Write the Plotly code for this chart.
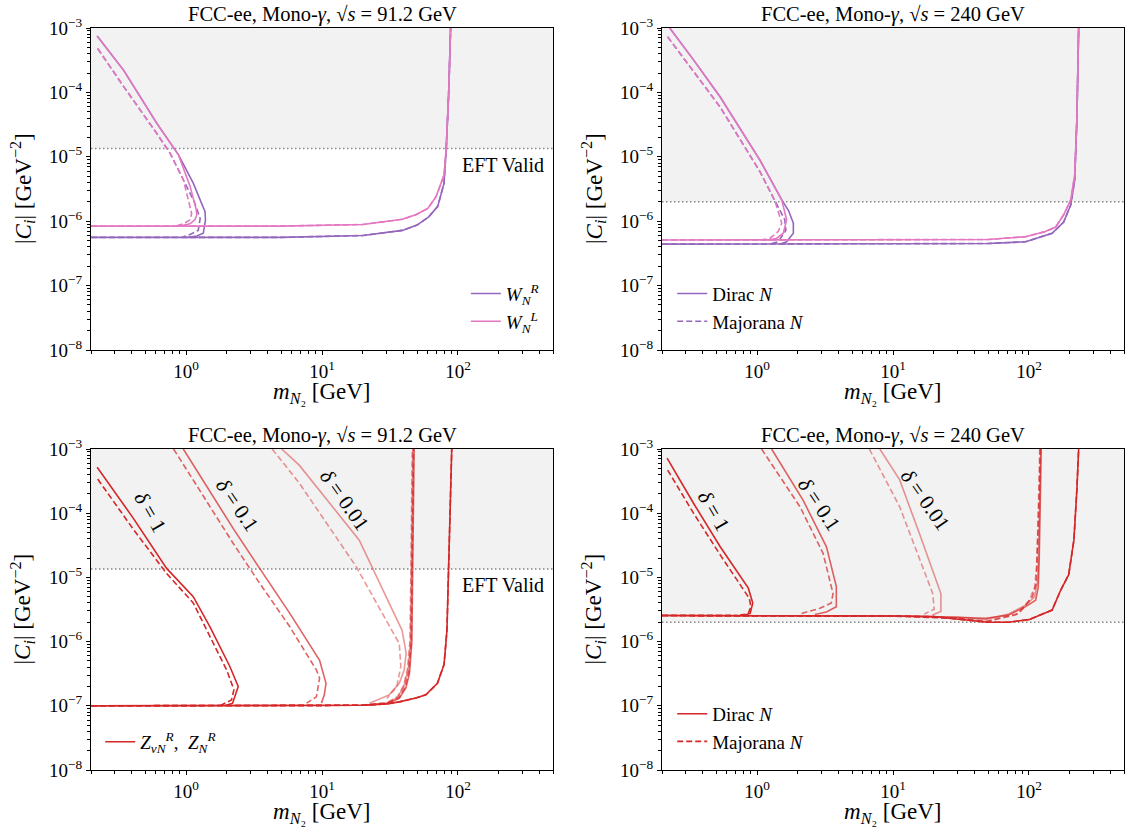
import numpy as np
import plotly.graph_objects as go
from plotly.subplots import make_subplots

# ---------------- axis limits / EFT lines ----------------
m_lim = [0.2, 500]
C_lim = [1e-8, 1e-3]
eft_91 = 1.35e-5
eft_240 = 2.0e-6

# tick labels
x_tick_vals = [1, 10, 100]
x_tick_text = ["10<sup>0</sup>", "10<sup>1</sup>", "10<sup>2</sup>"]
y_tick_vals = [1e-8, 1e-7, 1e-6, 1e-5, 1e-4, 1e-3]
y_tick_text = ["10<sup>−8</sup>", "10<sup>−7</sup>", "10<sup>−6</sup>", "10<sup>−5</sup>",
               "10<sup>−4</sup>", "10<sup>−3</sup>"]

# ---------------- Top-left: W operators, sqrt(s)=91.2 ----------------
tl_WR_dir_diag_m = [0.222, 0.348, 0.61, 0.88, 1.13, 1.38, 1.39, 1.34, 1.20, 1.01]
tl_WR_dir_diag_C = [7.5e-4, 2.2e-4, 3.3e-5, 1.07e-5, 3.9e-6, 1.41e-6, 1.05e-6, 6.5e-7, 5.9e-7, 5.6e-7]
tl_WR_maj_diag_m = [0.224, 0.348, 0.61, 0.764, 0.955, 1.15, 1.27, 1.23, 1.07, 0.955]
tl_WR_maj_diag_C = [4.8e-4, 1.23e-4, 2.3e-5, 1.13e-5, 4.4e-6, 2.0e-6, 1.1e-6, 7.2e-7, 6.2e-7, 5.75e-7]
tl_WR_flat_m = [0.2, 5, 20, 39, 50, 61, 71, 79, 82, 85.5, 88.3]
tl_WR_flat_C = [5.6e-7, 5.6e-7, 6.0e-7, 7.2e-7, 8.7e-7, 1.17e-6, 1.7e-6, 3.9e-6, 1.35e-5, 1e-4, 1e-3]

tl_WL_dir_diag_m = [0.222, 0.348, 0.61, 0.88, 1.07, 1.19, 1.20, 1.16, 1.07, 0.90]
tl_WL_dir_diag_C = [7.5e-4, 2.2e-4, 3.3e-5, 1.07e-5, 3.5e-6, 1.5e-6, 1.25e-6, 1.05e-6, 9.1e-7, 8.4e-7]
tl_WL_maj_diag_m = [0.224, 0.348, 0.61, 0.764, 0.955, 1.10, 1.07, 0.955, 0.855]
tl_WL_maj_diag_C = [4.8e-4, 1.23e-4, 2.3e-5, 1.13e-5, 4.4e-6, 1.32e-6, 1.05e-6, 9.1e-7, 8.5e-7]
tl_WL_flat_m = [0.2, 5, 20, 39, 49, 60, 69, 79, 82, 85.5, 88.3]
tl_WL_flat_C = [8.4e-7, 8.4e-7, 8.9e-7, 1.07e-6, 1.26e-6, 1.58e-6, 2.4e-6, 5.2e-6, 1.35e-5, 1e-4, 1e-3]

# ---------------- Top-right: W operators, sqrt(s)=240 ----------------
tr_WR_dir_diag_m = [0.228, 0.341, 0.536, 1.05, 1.52, 1.70, 1.85, 1.85, 1.65, 1.47]
tr_WR_dir_diag_C = [1e-3, 3.2e-4, 8.5e-5, 8.9e-6, 2.14e-6, 1.48e-6, 9.3e-7, 6.5e-7, 4.8e-7, 4.4e-7]
tr_WR_maj_diag_m = [0.22, 0.536, 1.05, 1.36, 1.52, 1.60, 1.63, 1.43, 1.24]
tr_WR_maj_diag_C = [7.3e-4, 5.9e-5, 5.9e-6, 2.0e-6, 1.3e-6, 1.05e-6, 7.2e-7, 4.8e-7, 4.4e-7]
tr_WR_flat_m = [0.2, 20, 50, 94.6, 148, 180, 203, 217, 225, 232]
tr_WR_flat_C = [4.4e-7, 4.4e-7, 4.5e-7, 4.8e-7, 6.5e-7, 9.7e-7, 1.8e-6, 4.4e-6, 3.7e-5, 1e-3]

tr_WL_dir_diag_m = [0.228, 0.341, 0.536, 1.05, 1.52, 1.65, 1.56, 1.39, 1.2]
tr_WL_dir_diag_C = [1e-3, 3.2e-4, 8.5e-5, 8.9e-6, 2.14e-6, 1.05e-6, 6.5e-7, 5.4e-7, 5.1e-7]
tr_WL_maj_diag_m = [0.22, 0.536, 1.05, 1.36, 1.52, 1.43, 1.24, 1.06]
tr_WL_maj_diag_C = [7.3e-4, 5.9e-5, 5.9e-6, 2.0e-6, 9.3e-7, 6.9e-7, 5.4e-7, 5.1e-7]
tr_WL_flat_m = [0.2, 20, 50, 94.6, 132, 157, 180, 203, 217, 225, 232]
tr_WL_flat_C = [5.1e-7, 5.1e-7, 5.2e-7, 5.75e-7, 6.9e-7, 8.1e-7, 1.26e-6, 2.14e-6, 5.2e-6, 3.7e-5, 1e-3]

# ---------------- Bottom-left: Z operators, sqrt(s)=91.2 ----------------
bl_d1_dir_diag_m = [0.222, 0.41, 0.72, 1.13, 1.5, 2.1, 2.42, 2.27, 2.2, 1.93]
bl_d1_dir_diag_C = [5.2e-4, 8.3e-5, 1.38e-5, 5.0e-6, 1.7e-6, 4.1e-7, 2.0e-7, 1.38e-7, 1.1e-7, 1.0e-7]
bl_d1_maj_diag_m = [0.224, 0.41, 0.72, 1.13, 1.99, 2.25, 2.16, 1.77]
bl_d1_maj_diag_C = [3.4e-4, 5.6e-5, 1.15e-5, 4.0e-6, 3.6e-7, 1.78e-7, 1.23e-7, 1.0e-7]
bl_d1_flat_m = [0.2, 10, 20, 30, 37, 49, 58, 70.6, 79, 83, 85, 87.5, 90]
bl_d1_flat_C = [1e-7, 1e-7, 1.02e-7, 1.07e-7, 1.15e-7, 1.32e-7, 1.48e-7, 2.24e-7, 4.4e-7, 1.5e-6, 1.38e-5, 1e-4, 1e-3]

bl_d01_dir_diag_m = [0.955, 2.22, 3.48, 5.8, 9.6, 10.7, 10.4, 9.9]
bl_d01_dir_diag_C = [1e-3, 5.8e-5, 1.38e-5, 2.75e-6, 5.1e-7, 2.24e-7, 1.48e-7, 1.1e-7]
bl_d01_maj_diag_m = [0.81, 2.22, 3.48, 5.8, 9.1, 9.6, 9.1, 7.7]
bl_d01_maj_diag_C = [1e-3, 3.4e-5, 8.1e-6, 1.7e-6, 3.6e-7, 2.7e-7, 1.38e-7, 1.1e-7]
bl_d01_dir_flat_m = [0.2, 10, 20, 30, 37, 41.4, 44, 45.8, 46.6, 47.1, 47.6]
bl_d01_dir_flat_C = [1e-7, 1e-7, 1.02e-7, 1.08e-7, 1.3e-7, 1.9e-7, 3.2e-7, 1e-6, 1.35e-5, 1e-4, 1e-3]
bl_d01_maj_flat_m = [0.2, 10, 20, 30, 37, 41, 43.5, 45.3, 46.1, 46.6, 47.1]
bl_d01_maj_flat_C = [1e-7, 1e-7, 1.02e-7, 1.08e-7, 1.35e-7, 2.0e-7, 3.4e-7, 1e-6, 1.35e-5, 1e-4, 1e-3]

bl_d001_dir_diag_m = [5.05, 6.8, 18.8, 27.9, 38.8, 41.6, 40.2, 37, 31.2, 22.3]
bl_d001_dir_diag_C = [1e-3, 5.6e-4, 3.8e-5, 6.4e-6, 1.5e-6, 6.6e-7, 3.6e-7, 2.24e-7, 1.48e-7, 1.1e-7]
bl_d001_maj_diag_m = [4.3, 6.8, 17.8, 37, 38, 35.5, 30]
bl_d001_maj_diag_C = [1e-3, 2.95e-4, 1.48e-5, 9.3e-7, 4.1e-7, 2.0e-7, 1.3e-7]
bl_d001_dir_flat_m = [0.2, 10, 20, 30, 36, 40, 43, 44.8, 45.6, 46.1, 46.6]
bl_d001_dir_flat_C = [1e-7, 1e-7, 1.02e-7, 1.1e-7, 1.35e-7, 2.0e-7, 3.6e-7, 1e-6, 1.35e-5, 1e-4, 1e-3]
bl_d001_maj_flat_m = [0.2, 10, 20, 30, 36, 40, 42.5, 44.3, 45.1, 45.6, 46.1]
bl_d001_maj_flat_C = [1e-7, 1e-7, 1.03e-7, 1.12e-7, 1.4e-7, 2.1e-7, 3.8e-7, 1e-6, 1.35e-5, 1e-4, 1e-3]

# ---------------- Bottom-right: Z operators, sqrt(s)=240 ----------------
br_d1_dir_diag_m = [0.218, 0.341, 0.536, 0.863, 0.93, 0.89, 0.817]
br_d1_dir_diag_C = [7.2e-4, 1.43e-4, 3.0e-5, 6.8e-6, 4.0e-6, 2.75e-6, 2.6e-6]
br_d1_maj_diag_m = [0.22, 0.341, 0.536, 0.878, 0.90, 0.86, 0.75]
br_d1_maj_diag_C = [4.7e-4, 1.0e-4, 2.24e-5, 4.7e-6, 3.5e-6, 2.7e-6, 2.6e-6]
br_d1_flat_m = [0.2, 1, 10, 20, 35, 50, 70, 100, 148, 171, 196, 214, 225, 232]
br_d1_flat_C = [2.55e-6, 2.55e-6, 2.5e-6, 2.45e-6, 2.2e-6, 2.0e-6, 2.0e-6, 2.2e-6, 3.1e-6, 6.3e-6, 1.1e-5, 3.8e-5, 2.3e-4, 1e-3]

br_d01_dir_diag_m = [1.28, 2.18, 3.24, 3.83, 3.83, 3.24, 2.66]
br_d01_dir_diag_C = [1e-3, 1.6e-4, 3.0e-5, 7.2e-6, 3.5e-6, 2.9e-6, 2.65e-6]
br_d01_maj_diag_m = [1.08, 2.07, 3.06, 3.62, 3.52, 2.9, 2.07]
br_d01_maj_diag_C = [1e-3, 1.26e-4, 2.37e-5, 5.6e-6, 4.0e-6, 3.3e-6, 2.7e-6]
br_d01_dir_flat_m = [0.2, 10, 30, 48, 71, 94.6, 112, 117, 119, 121, 123]
br_d01_dir_flat_C = [2.55e-6, 2.5e-6, 2.4e-6, 2.3e-6, 2.6e-6, 3.5e-6, 4.4e-6, 7e-6, 2e-5, 1.5e-4, 1e-3]
br_d01_maj_flat_m = [0.2, 10, 30, 48, 84.5, 106, 113, 115, 117, 119, 121]
br_d01_maj_flat_C = [2.55e-6, 2.5e-6, 2.3e-6, 2.04e-6, 2.75e-6, 5e-6, 8e-6, 2e-5, 5e-5, 2e-4, 1e-3]

br_d001_dir_diag_m = [8.0, 11.2, 15.6, 22.5, 22.5, 19.5]
br_d001_dir_diag_C = [1e-3, 3.3e-4, 4.9e-5, 5.6e-6, 2.95e-6, 2.6e-6]
br_d001_maj_diag_m = [6.7, 11.2, 19.6, 20.1, 17.0]
br_d001_maj_diag_C = [1e-3, 1.26e-4, 5.6e-6, 3.2e-6, 2.7e-6]
br_d001_dir_flat_m = [0.2, 10, 30, 48, 71, 94.6, 110, 116, 118, 120, 122]
br_d001_dir_flat_C = [2.55e-6, 2.5e-6, 2.4e-6, 2.2e-6, 2.7e-6, 3.7e-6, 5e-6, 9e-6, 3e-5, 2e-4, 1e-3]
br_d001_maj_flat_m = [0.2, 10, 30, 48, 80, 100, 110, 114, 116, 118, 120]
br_d001_maj_flat_C = [2.55e-6, 2.5e-6, 2.3e-6, 2.05e-6, 2.6e-6, 4.3e-6, 7e-6, 1.5e-5, 5e-5, 2.5e-4, 1e-3]

# text labels
titles = ["FCC-ee, Mono-<i>γ</i>, √<i>s</i> = 91.2 GeV", "FCC-ee, Mono-<i>γ</i>, √<i>s</i> = 240 GeV",
          "FCC-ee, Mono-<i>γ</i>, √<i>s</i> = 91.2 GeV", "FCC-ee, Mono-<i>γ</i>, √<i>s</i> = 240 GeV"]
x_label = "<i>m</i><sub><i>N</i>₂</sub> [GeV]"
y_label = "|<i>C<sub>i</sub></i>| [GeV<sup>−2</sup>]"
delta_labels = ["<i>δ</i> = 1", "<i>δ</i> = 0.1", "<i>δ</i> = 0.01"]
bl_delta_pos_m = [0.545, 2.38, 14.6]
bl_delta_pos_C = [1.05e-4, 1.34e-4, 1.6e-4]
br_delta_pos_m = [0.479, 2.85, 17.3]
br_delta_pos_C = [1.07e-4, 1.38e-4, 1.62e-4]
delta_angles = [60, 56, 55]
eft_label_m = 215
eft_label_C = [7.5e-6, 7.6e-6]

# ---------------- styling ----------------
PURPLE = "#9467bd"
PINK = "#e377c2"
RED = "#d62728"
RED2 = "rgba(214,39,40,0.72)"
RED3 = "rgba(214,39,40,0.48)"
FONT = "Liberation Serif"
LW = 1.6
DASH = "6px,3px"

fig = make_subplots(rows=2, cols=2)

xdom = [[91 / 1126, 553 / 1126], [662 / 1126, 1124 / 1126]]
ydom = [[(827 - 350) / 827, (827 - 28) / 827], [(827 - 770) / 827, (827 - 449) / 827]]


def join(m1, c1, m2, c2):
    return list(m1) + [None] + list(m2), list(c1) + [None] + list(c2)


def add_bg(row, col, eft):
    fig.add_trace(go.Scatter(x=[m_lim[0], m_lim[1], m_lim[1], m_lim[0], m_lim[0]],
                             y=[eft, eft, C_lim[1], C_lim[1], eft],
                             fill="toself", fillcolor="#f2f2f2", mode="lines",
                             line=dict(width=0), hoverinfo="skip", showlegend=False),
                  row=row, col=col)
    fig.add_trace(go.Scatter(x=m_lim, y=[eft, eft], mode="lines",
                             line=dict(color="#888888", width=1.5, dash="1.5px,2.5px"),
                             hoverinfo="skip", showlegend=False), row=row, col=col)


def add_line(row, col, m, c, color, dash=None, name=None, legend="legend", showlegend=False):
    fig.add_trace(go.Scatter(x=m, y=c, mode="lines", name=name,
                             line=dict(color=color, width=LW, dash=dash),
                             legend=legend, showlegend=showlegend, connectgaps=False),
                  row=row, col=col)


add_bg(1, 1, eft_91)
add_bg(1, 2, eft_240)
add_bg(2, 1, eft_91)
add_bg(2, 2, eft_240)

W_R = "<i>W</i><sub><i>N</i></sub><sup><i>R</i></sup>"
W_L = "<i>W</i><sub><i>N</i></sub><sup><i>L</i></sup>"
Z_lab = ("<i>Z</i><sub><i>νN</i></sub><sup><i>R</i></sup>,  "
         "<i>Z</i><sub><i>N</i></sub><sup><i>R</i></sup>")

# top-left
m, c = join(tl_WR_dir_diag_m, tl_WR_dir_diag_C, tl_WR_flat_m, tl_WR_flat_C)
add_line(1, 1, m, c, PURPLE, name=W_R, legend="legend", showlegend=True)
m, c = join(tl_WR_maj_diag_m, tl_WR_maj_diag_C, tl_WR_flat_m, tl_WR_flat_C)
add_line(1, 1, m, c, PURPLE, dash=DASH)
m, c = join(tl_WL_dir_diag_m, tl_WL_dir_diag_C, tl_WL_flat_m, tl_WL_flat_C)
add_line(1, 1, m, c, PINK, name=W_L, legend="legend", showlegend=True)
m, c = join(tl_WL_maj_diag_m, tl_WL_maj_diag_C, tl_WL_flat_m, tl_WL_flat_C)
add_line(1, 1, m, c, PINK, dash=DASH)

# top-right
m, c = join(tr_WR_dir_diag_m, tr_WR_dir_diag_C, tr_WR_flat_m, tr_WR_flat_C)
add_line(1, 2, m, c, PURPLE, name="Dirac <i>N</i>", legend="legend2", showlegend=True)
m, c = join(tr_WR_maj_diag_m, tr_WR_maj_diag_C, tr_WR_flat_m, tr_WR_flat_C)
add_line(1, 2, m, c, PURPLE, dash=DASH, name="Majorana <i>N</i>", legend="legend2", showlegend=True)
m, c = join(tr_WL_dir_diag_m, tr_WL_dir_diag_C, tr_WL_flat_m, tr_WL_flat_C)
add_line(1, 2, m, c, PINK)
m, c = join(tr_WL_maj_diag_m, tr_WL_maj_diag_C, tr_WL_flat_m, tr_WL_flat_C)
add_line(1, 2, m, c, PINK, dash=DASH)

# bottom-left
m, c = join(bl_d001_dir_diag_m, bl_d001_dir_diag_C, bl_d001_dir_flat_m, bl_d001_dir_flat_C)
add_line(2, 1, m, c, RED3)
m, c = join(bl_d001_maj_diag_m, bl_d001_maj_diag_C, bl_d001_maj_flat_m, bl_d001_maj_flat_C)
add_line(2, 1, m, c, RED3, dash=DASH)
m, c = join(bl_d01_dir_diag_m, bl_d01_dir_diag_C, bl_d01_dir_flat_m, bl_d01_dir_flat_C)
add_line(2, 1, m, c, RED2)
m, c = join(bl_d01_maj_diag_m, bl_d01_maj_diag_C, bl_d01_maj_flat_m, bl_d01_maj_flat_C)
add_line(2, 1, m, c, RED2, dash=DASH)
m, c = join(bl_d1_maj_diag_m, bl_d1_maj_diag_C, bl_d1_flat_m, bl_d1_flat_C)
add_line(2, 1, m, c, RED, dash=DASH)
m, c = join(bl_d1_dir_diag_m, bl_d1_dir_diag_C, bl_d1_flat_m, bl_d1_flat_C)
add_line(2, 1, m, c, RED, name=Z_lab, legend="legend3", showlegend=True)

# bottom-right
m, c = join(br_d001_dir_diag_m, br_d001_dir_diag_C, br_d001_dir_flat_m, br_d001_dir_flat_C)
add_line(2, 2, m, c, RED3)
m, c = join(br_d001_maj_diag_m, br_d001_maj_diag_C, br_d001_maj_flat_m, br_d001_maj_flat_C)
add_line(2, 2, m, c, RED3, dash=DASH)
m, c = join(br_d01_dir_diag_m, br_d01_dir_diag_C, br_d01_dir_flat_m, br_d01_dir_flat_C)
add_line(2, 2, m, c, RED2)
m, c = join(br_d01_maj_diag_m, br_d01_maj_diag_C, br_d01_maj_flat_m, br_d01_maj_flat_C)
add_line(2, 2, m, c, RED2, dash=DASH)
m, c = join(br_d1_dir_diag_m, br_d1_dir_diag_C, br_d1_flat_m, br_d1_flat_C)
add_line(2, 2, m, c, RED, name="Dirac <i>N</i>", legend="legend4", showlegend=True)
m, c = join(br_d1_maj_diag_m, br_d1_maj_diag_C, br_d1_flat_m, br_d1_flat_C)
add_line(2, 2, m, c, RED, dash=DASH, name="Majorana <i>N</i>", legend="legend4", showlegend=True)

# minor tick positions (2..9 in every decade)
x_minor = [k * 10.0 ** e for e in range(-1, 3) for k in range(2, 10) if m_lim[0] <= k * 10.0 ** e <= m_lim[1]]
y_minor = [k * 10.0 ** e for e in range(-8, -3) for k in range(2, 10)]

axis_common = dict(type="log", showline=True, linecolor="black", linewidth=1.2, mirror=True,
                   ticks="outside", ticklen=4, tickwidth=1.1, tickcolor="black",
                   showgrid=False, zeroline=False, automargin=False,
                   tickfont=dict(family=FONT, size=19, color="black"))
for i, (r, cidx) in enumerate([(0, 0), (0, 1), (1, 0), (1, 1)]):
    xa = "xaxis" if i == 0 else f"xaxis{i + 1}"
    ya = "yaxis" if i == 0 else f"yaxis{i + 1}"
    fig.layout[xa].update(domain=xdom[cidx], range=[np.log10(m_lim[0]), np.log10(m_lim[1])],
                          tickmode="array", tickvals=x_tick_vals, ticktext=x_tick_text,
                          minor=dict(tickmode="array", tickvals=x_minor, ticks="outside", ticklen=2.5,
                                     tickwidth=0.8, tickcolor="black", showgrid=False),
                          **axis_common)
    fig.layout[ya].update(domain=ydom[r], range=[np.log10(C_lim[0]), np.log10(C_lim[1])],
                          tickmode="array", tickvals=y_tick_vals, ticktext=y_tick_text,
                          minor=dict(tickmode="array", tickvals=y_minor, ticks="outside", ticklen=2.5,
                                     tickwidth=0.8, tickcolor="black", showgrid=False),
                          **axis_common)

annotations = []
for i, (r, cidx) in enumerate([(0, 0), (0, 1), (1, 0), (1, 1)]):
    xc = (xdom[cidx][0] + xdom[cidx][1]) / 2
    annotations.append(dict(text=titles[i], xref="paper", yref="paper",
                            x=xc, y=ydom[r][1],
                            xanchor="center", yanchor="bottom", yshift=0, showarrow=False,
                            font=dict(family=FONT, size=20.5, color="black")))
    annotations.append(dict(text=x_label, xref="paper", yref="paper", x=xc, y=ydom[r][0],
                            xanchor="center", yanchor="middle", yshift=-43, showarrow=False,
                            font=dict(family=FONT, size=23, color="black")))
    annotations.append(dict(text=y_label, xref="paper", yref="paper", x=xdom[cidx][0],
                            y=(ydom[r][0] + ydom[r][1]) / 2, textangle=-90,
                            xanchor="center", yanchor="middle", xshift=-69, showarrow=False,
                            font=dict(family=FONT, size=23, color="black")))

for xr, yr, cval in [("x", "y", eft_label_C[0]), ("x3", "y3", eft_label_C[1])]:
    annotations.append(dict(text="EFT Valid", xref=xr, yref=yr, x=np.log10(eft_label_m), y=np.log10(cval),
                            xanchor="center", yanchor="middle", showarrow=False,
                            font=dict(family=FONT, size=20, color="black")))

for k in range(3):
    annotations.append(dict(text=delta_labels[k], xref="x3", yref="y3",
                            x=np.log10(bl_delta_pos_m[k]), y=np.log10(bl_delta_pos_C[k]),
                            textangle=delta_angles[k], showarrow=False,
                            font=dict(family=FONT, size=21, color="black")))
    annotations.append(dict(text=delta_labels[k], xref="x4", yref="y4",
                            x=np.log10(br_delta_pos_m[k]), y=np.log10(br_delta_pos_C[k]),
                            textangle=delta_angles[k], showarrow=False,
                            font=dict(family=FONT, size=21, color="black")))

leg_font = dict(family=FONT, size=19, color="black")
fig.update_layout(
    width=1126, height=827,
    margin=dict(l=0, r=0, t=0, b=0),
    paper_bgcolor="white", plot_bgcolor="white",
    annotations=annotations,
    legend=dict(x=0.483, y=0.588, xanchor="right", yanchor="bottom", font=leg_font,
                bgcolor="rgba(255,255,255,0)", tracegroupgap=2),
    legend2=dict(x=0.597, y=0.588, xanchor="left", yanchor="bottom", font=leg_font,
                 bgcolor="rgba(255,255,255,0)"),
    legend3=dict(x=0.089, y=0.08, xanchor="left", yanchor="bottom", font=leg_font,
                 bgcolor="rgba(255,255,255,0)"),
    legend4=dict(x=0.597, y=0.08, xanchor="left", yanchor="bottom", font=leg_font,
                 bgcolor="rgba(255,255,255,0)"),
)

fig.write_html("out.html")
